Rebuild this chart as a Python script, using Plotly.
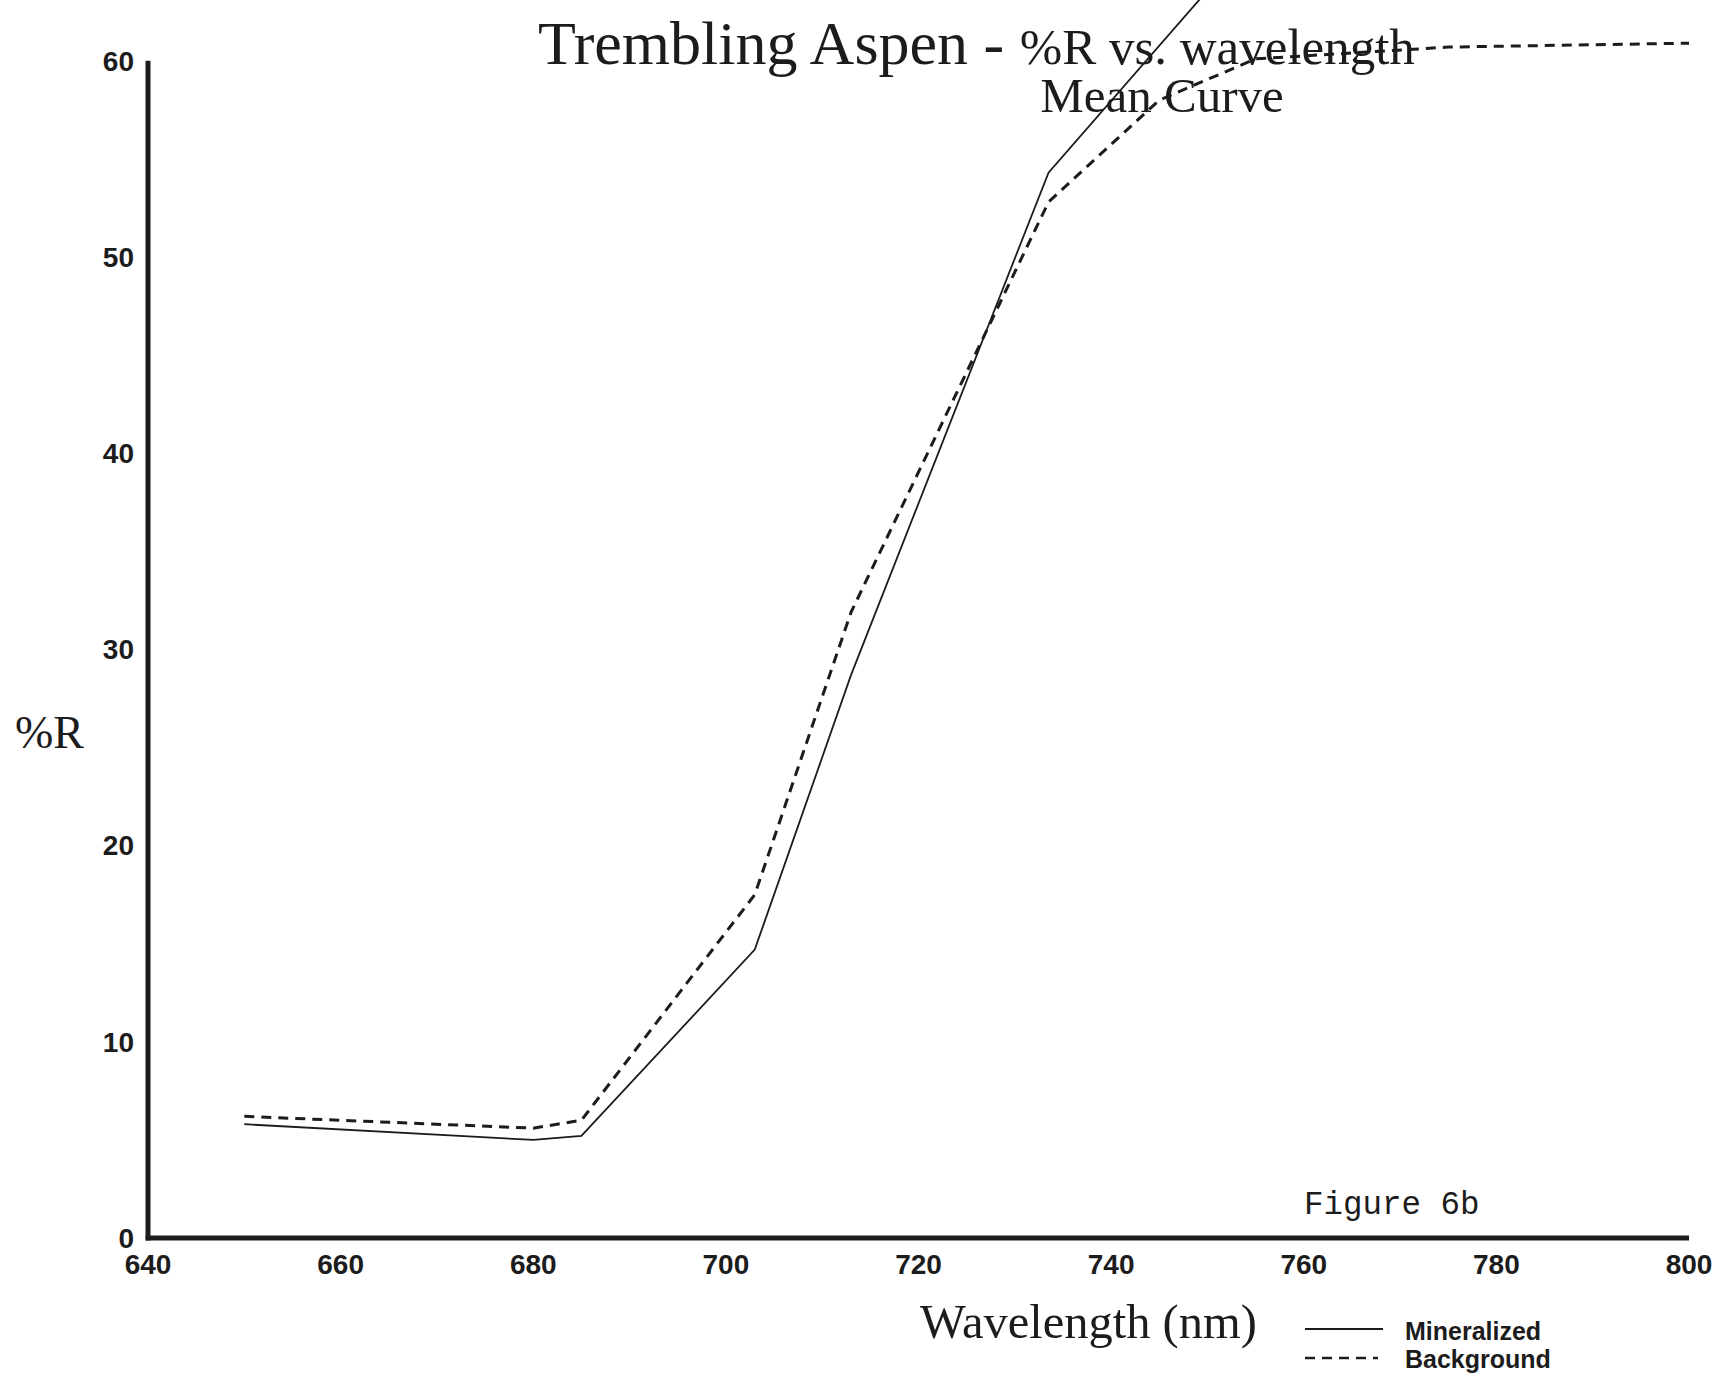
import plotly.graph_objects as go

# ---------------- data ----------------
wavelength_mineralized = [650, 680, 685, 703, 713, 733.5, 755]
mineralized = [5.8, 5.0, 5.2, 14.7, 28.7, 54.3, 66.4]

wavelength_background = [650, 680, 685, 703, 713, 733.5, 745, 755, 775, 800]
background = [6.2, 5.6, 6.0, 17.5, 31.9, 52.8, 58.0, 60.1, 60.7, 60.9]

x_ticks = [640, 660, 680, 700, 720, 740, 760, 780, 800]
y_ticks = [0, 10, 20, 30, 40, 50, 60]

# ---------------- layout geometry ----------------
W, H = 1723, 1376
L, R, T, B = 148, 34, 0, 138
PW, PH = W - L - R, H - T - B
Y_MAX = 60
Y_TOP = 63.1  # plot area extends a little above the 60 axis end

INK = "#1c1c1c"


def px(xp):
    return (xp - L) / PW


def py(yp):
    return 1 - (yp - T) / PH


fig = go.Figure()

fig.add_trace(go.Scatter(
    x=wavelength_mineralized, y=mineralized, mode="lines", name="Mineralized",
    line=dict(color=INK, width=1.8), showlegend=False,
))
fig.add_trace(go.Scatter(
    x=wavelength_background, y=background, mode="lines", name="Background",
    line=dict(color=INK, width=3, dash="10px,7px"), showlegend=False,
))

# axis lines (L-shaped frame, y axis ends at 60) - paper refs so they are not clipped
fig.add_shape(type="line", xref="paper", yref="paper", x0=0, x1=0, y0=-0.002,
              y1=Y_MAX / Y_TOP, line=dict(color=INK, width=5))
fig.add_shape(type="line", xref="paper", yref="paper", x0=-0.0015, x1=1, y0=0, y1=0,
              line=dict(color=INK, width=5))

sans = "Liberation Sans, Arial, sans-serif"
serif = "Liberation Serif, Times New Roman, serif"
mono = "Liberation Mono, Courier New, monospace"

title_text = (
    "<span style='font-size:62px'>Trembling Aspen - </span>"
    "<span style='font-size:51px'>%R vs. wavelength</span><br>"
    "<span style='font-size:49px'>" + "&nbsp;" * 41 + "Mean Curve</span>"
)

annotations = [
    dict(text=title_text, x=px(536), y=py(7), xanchor="left", yanchor="top", align="left",
         font=dict(family=serif, size=37, color=INK)),
    dict(text="%R", x=px(49), y=py(732), xanchor="center", yanchor="middle",
         font=dict(family=serif, size=46, color=INK)),
    dict(text="Wavelength (nm)", x=px(1088), y=py(1322), xanchor="center", yanchor="middle",
         font=dict(family=serif, size=48.5, color=INK)),
    dict(text="Figure 6b", x=px(1392), y=py(1205), xanchor="center", yanchor="middle",
         font=dict(family=mono, size=32.5, color=INK)),
    dict(text="<b>Mineralized</b>", x=px(1403), y=py(1331), xanchor="left", yanchor="middle",
         font=dict(family=sans, size=25, color=INK)),
    dict(text="<b>Background</b>", x=px(1403), y=py(1359), xanchor="left", yanchor="middle",
         font=dict(family=sans, size=25, color=INK)),
]
for a in annotations:
    a.update(xref="paper", yref="paper", showarrow=False)

# legend samples
fig.add_shape(type="line", xref="paper", yref="paper", x0=px(1305), x1=px(1383),
              y0=py(1329), y1=py(1329), line=dict(color=INK, width=1.8))
fig.add_shape(type="line", xref="paper", yref="paper", x0=px(1305), x1=px(1378),
              y0=py(1358), y1=py(1358), line=dict(color=INK, width=2.5, dash="10px,7px"))

fig.update_layout(
    width=W, height=H, autosize=False,
    margin=dict(l=L, r=R, t=T, b=B, pad=0),
    paper_bgcolor="white", plot_bgcolor="white",
    annotations=annotations,
    showlegend=False,
    xaxis=dict(range=[640, 800], tickvals=x_ticks, ticktext=[str(v) for v in x_ticks],
               showgrid=False, zeroline=False, showline=False, ticks="",
               ticklabelstandoff=7,
               tickfont=dict(family=sans, size=28, color=INK, weight="bold")),
    yaxis=dict(range=[0, Y_TOP], tickvals=y_ticks, ticktext=[str(v) for v in y_ticks],
               showgrid=False, zeroline=False, showline=False, ticks="",
               ticklabelstandoff=13,
               tickfont=dict(family=sans, size=28, color=INK, weight="bold")),
)

fig.write_html("out.html")
